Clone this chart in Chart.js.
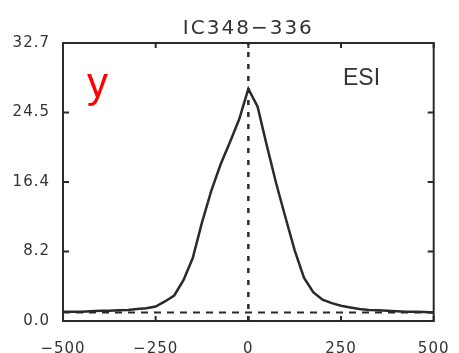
<!DOCTYPE html>
<html>
<head>
<meta charset="utf-8">
<script src="https://cdn.jsdelivr.net/npm/chart.js@4.4.1/dist/chart.umd.min.js"></script>
<style>
  html, body { margin: 0; padding: 0; background: #fff; }
  #wrap { width: 459px; height: 353px; }
</style>
</head>
<body>
<div id="wrap"><canvas id="profile"></canvas></div>
<script>
// Line profile: velocity (km/s) vs flux
const velocity = [-500, -475, -450, -425, -400, -375, -350, -325, -300, -275, -250, -225, -200, -175, -150, -125, -100, -75, -50, -25,
  0, 25, 50, 75, 100, 125, 150, 175, 200, 225, 250, 275, 300, 325, 350, 375, 400, 425, 450, 475, 500];
const flux = [1.1, 1.1, 1.1, 1.15, 1.2, 1.2, 1.25, 1.3, 1.4, 1.5, 1.7, 2.3, 3.0, 4.8, 7.4, 11.6, 15.3, 18.4, 21.0, 23.7,
  27.3, 25.2, 20.6, 16.2, 12.2, 8.3, 5.1, 3.4, 2.5, 2.1, 1.8, 1.6, 1.4, 1.3, 1.25, 1.2, 1.15, 1.1, 1.1, 1.05, 1.0];
const baseline = 1.0;

const xTicks = [-500, -250, 0, 250, 500];
const xTickLabels = ['\u2212500', '\u2212250', '0', '250', '500'];
const yTicks = [0, 8.175, 16.35, 24.525, 32.7];
const yTickLabels = ['0.0', '8.2', '16.4', '24.5', '32.7'];

const titleText = 'IC348\u2212336';
const tagText = 'y';
const instText = 'ESI';

const ink = '#2a2a2a';

// frame, inward ticks and the text labels
const framePlugin = {
  id: 'frame',
  beforeDraw(chart) {
    chart.ctx.letterSpacing = '1px';
  },
  afterDatasetsDraw(chart) {
    const { ctx, chartArea: a, scales: { x, y } } = chart;
    ctx.save();
    ctx.strokeStyle = ink;
    ctx.lineWidth = 2;
    ctx.setLineDash([]);
    ctx.strokeRect(a.left, a.top, a.right - a.left, a.bottom - a.top);
    ctx.beginPath();
    xTicks.forEach(v => {
      const px = x.getPixelForValue(v);
      ctx.moveTo(px, a.bottom); ctx.lineTo(px, a.bottom - 5);
      ctx.moveTo(px, a.top); ctx.lineTo(px, a.top + 5);
    });
    yTicks.forEach(v => {
      const py = y.getPixelForValue(v);
      ctx.moveTo(a.left, py); ctx.lineTo(a.left + 6, py);
      ctx.moveTo(a.right, py); ctx.lineTo(a.right - 6, py);
    });
    ctx.stroke();
    ctx.restore();
  },
  afterDraw(chart) {
    const { ctx, chartArea: a } = chart;
    ctx.save();
    ctx.letterSpacing = '2px';
    ctx.fillStyle = '#333';
    ctx.font = '20px "DejaVu Sans"';
    ctx.textAlign = 'center';
    ctx.textBaseline = 'alphabetic';
    ctx.fillText(titleText, (a.left + a.right) / 2, 34);

    ctx.letterSpacing = '0px';
    ctx.textAlign = 'left';
    ctx.font = '23px "Liberation Sans"';
    ctx.fillText(instText, 343, 84.5);

    ctx.fillStyle = '#ff0000';
    ctx.font = '42px "Liberation Sans"';
    ctx.fillText(tagText, 87, 97);
    ctx.restore();
    ctx.letterSpacing = '0px';
  }
};

new Chart(document.getElementById('profile'), {
  type: 'line',
  data: {
    datasets: [
      {
        data: velocity.map((v, i) => ({ x: v, y: flux[i] })),
        borderColor: ink,
        borderWidth: 2.5,
        pointRadius: 0,
        tension: 0
      },
      {
        data: [{ x: xTicks[0], y: baseline }, { x: xTicks[xTicks.length - 1], y: baseline }],
        borderColor: ink,
        borderWidth: 2,
        borderDash: [7, 6],
        pointRadius: 0
      },
      {
        data: [{ x: 0, y: yTicks[0] }, { x: 0, y: yTicks[yTicks.length - 1] }],
        borderColor: ink,
        borderWidth: 2.5,
        borderDash: [5, 7],
        pointRadius: 0
      }
    ]
  },
  options: {
    responsive: true,
    maintainAspectRatio: false,
    animation: false,
    layout: { padding: { left: 0, right: 21, top: 43, bottom: 0 } },
    plugins: { legend: { display: false }, tooltip: { enabled: false } },
    scales: {
      x: {
        type: 'linear',
        min: -500,
        max: 500,
        afterBuildTicks: s => { s.ticks = xTicks.map(v => ({ value: v })); },
        afterFit: s => { s.height = 32; },
        grid: { display: false },
        border: { display: false },
        ticks: {
          padding: 11,
          color: '#333',
          font: { family: 'DejaVu Sans', size: 15 },
          maxRotation: 0,
          autoSkip: false,
          callback: (v) => xTickLabels[xTicks.indexOf(v)]
        }
      },
      y: {
        type: 'linear',
        min: 0,
        max: 32.7,
        afterBuildTicks: s => { s.ticks = yTicks.map(v => ({ value: v })); },
        afterFit: s => { s.width = 63; },
        grid: { display: false },
        border: { display: false },
        ticks: {
          padding: 5,
          color: '#333',
          font: { family: 'DejaVu Sans', size: 15 },
          autoSkip: false,
          callback: (v) => yTickLabels[yTicks.indexOf(v)]
        }
      }
    }
  },
  plugins: [framePlugin]
});
</script>
</body>
</html>
